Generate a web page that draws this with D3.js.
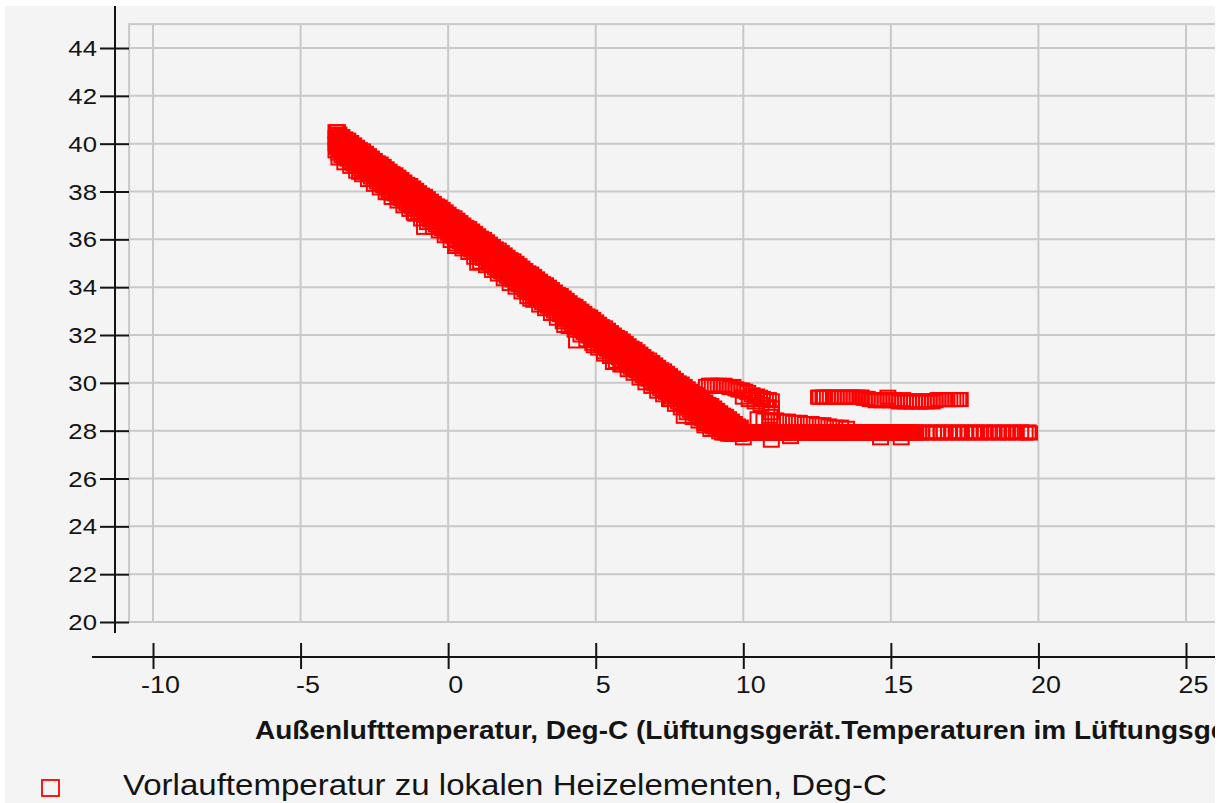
<!DOCTYPE html>
<html>
<head>
<meta charset="utf-8">
<script src="https://cdn.jsdelivr.net/npm/d3@7"></script>
<style>
  html, body { margin: 0; padding: 0; background: #ffffff; }
  svg { display: block; }
</style>
</head>
<body>
<svg id="chart"></svg>
<script>
const width = 1223,
  height = 803;

// axis ticks
const xTicks = [-10, -5, 0, 5, 10, 15, 20, 25];
const yTicks = [20, 22, 24, 26, 28, 30, 32, 34, 36, 38, 40, 42, 44];

const xTitle = "Außenlufttemperatur, Deg-C (Lüftungsgerät.Temperaturen im Lüftungsgerät)";
const seriesName = "Vorlauftemperatur zu lokalen Heizelementen, Deg-C";

// main descending band: [outside temp, flow temps read at that outside temp...]
const diagCols = [
  [-3.8,40.5,40.25,40.0,39.7],[-3.75,40.5],[-3.7,40.4,40.15,39.9,39.6],[-3.6,40.3,40.05,39.8,39.5],
  [-3.5,40.2,39.95,39.7,39.4],[-3.4,40.15,39.9,39.65,39.35],[-3.3,40.05,39.8,39.55,39.25],
  [-3.2,39.95,39.7,39.45,39.15],[-3.1,39.85,39.6,39.35,39.05],[-3.0,39.75,39.5,39.25,38.95],
  [-2.9,39.7,39.45,39.2,38.9],[-2.8,39.6,39.35,39.1,38.8],[-2.7,39.5,39.25,39.0,38.7],
  [-2.6,39.4,39.15,38.9,38.6],[-2.5,39.3,39.05,38.8,38.5],[-2.4,39.2,38.95,38.7,38.4],
  [-2.3,39.15,38.9,38.65,38.35],[-2.2,39.05,38.8,38.55,38.25],[-2.1,38.95,38.7,38.45,38.15],
  [-2.0,38.85,38.6,38.35,38.05],[-1.9,38.75,38.5,38.25,37.95],[-1.8,38.7,38.45,38.2,37.9],
  [-1.7,38.6,38.35,38.1,37.8],[-1.6,38.5,38.25,38.0,37.7],[-1.5,38.4,38.15,37.9,37.6],
  [-1.4,38.3,38.05,37.8,37.5],[-1.3,38.25,38.0,37.75,37.45],[-1.2,38.15,37.9,37.65,37.35],
  [-1.1,38.05,37.8,37.55,37.25],[-1.0,37.95,37.7,37.45,37.15],[-0.9,37.85,37.6,37.35,37.05],
  [-0.8,37.8,37.55,37.3,37.0],[-0.7,37.7,37.45,37.2,36.9],[-0.6,37.6,37.35,37.1,36.8],
  [-0.5,37.5,37.25,37.0,36.7],[-0.4,37.4,37.15,36.9,36.6],[-0.3,37.35,37.1,36.85,36.55],
  [-0.2,37.25,37.0,36.75,36.45],[-0.1,37.15,36.9,36.65,36.35],[0.0,37.05,36.8,36.55,36.25],
  [0.1,36.95,36.7,36.45,36.15],[0.2,36.9,36.65,36.4,36.1],[0.3,36.8,36.55,36.3,36.0],
  [0.4,36.7,36.45,36.2,35.9],[0.5,36.6,36.35,36.1,35.8],[0.6,36.5,36.25,36.0,35.7],
  [0.7,36.45,36.2,35.95,35.65],[0.8,36.35,36.1,35.85,35.55],[0.9,36.25,36.0,35.75,35.45],
  [1.0,36.15,35.9,35.65,35.35],[1.1,36.05,35.8,35.55,35.25],[1.2,36.0,35.75,35.5,35.2],
  [1.3,35.9,35.65,35.4,35.1],[1.4,35.8,35.55,35.3,35.0],[1.5,35.7,35.45,35.2,34.9],
  [1.6,35.6,35.35,35.1,34.8],[1.7,35.55,35.3,35.05,34.75],[1.8,35.45,35.2,34.95,34.65],
  [1.9,35.35,35.1,34.85,34.55],[2.0,35.25,35.0,34.75,34.45],[2.1,35.15,34.9,34.65,34.35],
  [2.2,35.1,34.85,34.6,34.3],[2.3,35.0,34.75,34.5,34.2],[2.4,34.9,34.65,34.4,34.1],
  [2.5,34.8,34.55,34.3,34.0],[2.6,34.7,34.45,34.2,33.9],[2.7,34.6,34.35,34.1,33.8],
  [2.8,34.55,34.3,34.05,33.75],[2.9,34.45,34.2,33.95,33.65],[3.0,34.35,34.1,33.85,33.55],
  [3.1,34.25,34.0,33.75,33.45],[3.2,34.15,33.9,33.65,33.35],[3.3,34.1,33.85,33.6,33.3],
  [3.4,34.0,33.75,33.5,33.2],[3.5,33.9,33.65,33.4,33.1],[3.6,33.8,33.55,33.3,33.0],
  [3.7,33.7,33.45,33.2,32.9],[3.8,33.65,33.4,33.15,32.85],[3.9,33.55,33.3,33.05,32.75],
  [4.0,33.45,33.2,32.95,32.65],[4.1,33.35,33.1,32.85,32.55],[4.2,33.25,33.0,32.75,32.45],
  [4.3,33.2,32.95,32.7,32.4],[4.4,33.1,32.85,32.6,32.3],[4.5,33.0,32.75,32.5,32.2],
  [4.6,32.9,32.65,32.4,32.1],[4.7,32.8,32.55,32.3,32.0],[4.8,32.75,32.5,32.25,31.95],
  [4.9,32.65,32.4,32.15,31.85],[5.0,32.55,32.3,32.05,31.75],[5.1,32.45,32.2,31.95,31.65],
  [5.2,32.35,32.1,31.85,31.55],[5.3,32.3,32.05,31.8,31.5],[5.4,32.2,31.95,31.7,31.4],
  [5.5,32.1,31.85,31.6,31.3],[5.6,32.0,31.75,31.5,31.2],[5.7,31.9,31.65,31.4,31.1],
  [5.8,31.85,31.6,31.35,31.05],[5.9,31.75,31.5,31.25,30.95],[6.0,31.65,31.4,31.15,30.85],
  [6.1,31.55,31.3,31.05,30.75],[6.2,31.45,31.2,30.95,30.65],[6.3,31.4,31.15,30.9,30.6],
  [6.4,31.3,31.05,30.8,30.5],[6.5,31.2,30.95,30.7,30.4],[6.6,31.1,30.85,30.6,30.3],
  [6.7,31.0,30.75,30.5,30.2],[6.8,30.95,30.7,30.45,30.15],[6.9,30.85,30.6,30.35,30.05],
  [7.0,30.75,30.5,30.25,29.95],[7.1,30.65,30.4,30.15,29.85],[7.2,30.55,30.3,30.05,29.75],
  [7.3,30.5,30.25,30.0,29.7],[7.4,30.4,30.15,29.9,29.6],[7.5,30.3,30.05,29.8,29.5],
  [7.6,30.2,29.95,29.7,29.4],[7.7,30.1,29.85,29.6,29.3],[7.8,30.0,29.75,29.5,29.2],
  [7.9,29.95,29.7,29.45,29.15],[8.0,29.85,29.6,29.35,29.05],[8.1,29.75,29.5,29.25,28.95],
  [8.2,29.65,29.4,29.15,28.85],[8.3,29.55,29.3,29.05,28.75],[8.4,29.5,29.25,29.0,28.7],
  [8.5,29.4,29.15,28.9,28.6],[8.6,29.3,29.05,28.8,28.5],[8.7,29.2,28.95,28.7,28.4],
  [8.8,29.1,28.85,28.6,28.3],[8.9,29.05,28.8,28.55,28.25],[9.0,28.95,28.7,28.45,28.15],
  [9.1,28.85,28.6,28.35,28.05],[9.2,28.75,28.5,28.25,27.95],[9.3,28.65,28.4,28.15,27.9],
  [9.4,28.6,28.35,28.1,27.9],[9.5,28.5,28.25,28.0,27.85],[9.6,28.4,28.15,27.95,27.85],
  [9.7,28.3,28.05,27.9,27.85],[9.8,28.2,28.0,27.9,27.85],[9.9,28.15,27.95,27.9,27.85]
];

// readings taken between the columns above
const diagHalf = [
  [-3.75,40.35,40.1,39.85],[-3.65,40.25,40.0,39.75],[-3.55,40.15,39.9,39.65],[-3.45,40.05,39.8,39.55],
  [-3.35,40.0,39.75,39.5],[-3.25,39.9,39.65,39.4],[-3.15,39.8,39.55,39.3],[-3.05,39.7,39.45,39.2],
  [-2.95,39.6,39.35,39.1],[-2.85,39.55,39.3,39.05],[-2.75,39.45,39.2,38.95],[-2.65,39.35,39.1,38.85],
  [-2.55,39.25,39.0,38.75],[-2.45,39.15,38.9,38.65],[-2.35,39.1,38.85,38.6],[-2.25,39.0,38.75,38.5],
  [-2.15,38.9,38.65,38.4],[-2.05,38.8,38.55,38.3],[-1.95,38.7,38.45,38.2],[-1.85,38.65,38.4,38.15],
  [-1.75,38.55,38.3,38.05],[-1.65,38.45,38.2,37.95],[-1.55,38.35,38.1,37.85],[-1.45,38.25,38.0,37.75],
  [-1.35,38.2,37.95,37.7],[-1.25,38.1,37.85,37.6],[-1.15,38.0,37.75,37.5],[-1.05,37.9,37.65,37.4],
  [-0.95,37.8,37.55,37.3],[-0.85,37.75,37.5,37.25],[-0.75,37.65,37.4,37.15],[-0.65,37.55,37.3,37.05],
  [-0.55,37.45,37.2,36.95],[-0.45,37.35,37.1,36.85],[-0.35,37.3,37.05,36.8],[-0.25,37.2,36.95,36.7],
  [-0.15,37.1,36.85,36.6],[-0.05,37.0,36.75,36.5],[0.05,36.9,36.65,36.4],[0.15,36.8,36.55,36.3],
  [0.25,36.75,36.5,36.25],[0.35,36.65,36.4,36.15],[0.45,36.55,36.3,36.05],[0.55,36.45,36.2,35.95],
  [0.65,36.35,36.1,35.85],[0.75,36.3,36.05,35.8],[0.85,36.2,35.95,35.7],[0.95,36.1,35.85,35.6],
  [1.05,36.0,35.75,35.5],[1.15,35.9,35.65,35.4],[1.25,35.85,35.6,35.35],[1.35,35.75,35.5,35.25],
  [1.45,35.65,35.4,35.15],[1.55,35.55,35.3,35.05],[1.65,35.45,35.2,34.95],[1.75,35.4,35.15,34.9],
  [1.85,35.3,35.05,34.8],[1.95,35.2,34.95,34.7],[2.05,35.1,34.85,34.6],[2.15,35.0,34.75,34.5],
  [2.25,34.95,34.7,34.45],[2.35,34.85,34.6,34.35],[2.45,34.75,34.5,34.25],[2.55,34.65,34.4,34.15],
  [2.65,34.55,34.3,34.05],[2.75,34.5,34.25,34.0],[2.85,34.4,34.15,33.9],[2.95,34.3,34.05,33.8],
  [3.05,34.2,33.95,33.7],[3.15,34.1,33.85,33.6],[3.25,34.05,33.8,33.55],[3.35,33.95,33.7,33.45],
  [3.45,33.85,33.6,33.35],[3.55,33.75,33.5,33.25],[3.65,33.65,33.4,33.15],[3.75,33.6,33.35,33.1],
  [3.85,33.5,33.25,33.0],[3.95,33.4,33.15,32.9],[4.05,33.3,33.05,32.8],[4.15,33.2,32.95,32.7],
  [4.25,33.15,32.9,32.65],[4.35,33.05,32.8,32.55],[4.45,32.95,32.7,32.45],[4.55,32.85,32.6,32.35],
  [4.65,32.75,32.5,32.25],[4.75,32.7,32.45,32.2],[4.85,32.6,32.35,32.1],[4.95,32.5,32.25,32.0],
  [5.05,32.4,32.15,31.9],[5.15,32.3,32.05,31.8],[5.25,32.2,31.95,31.7],[5.35,32.15,31.9,31.65],
  [5.45,32.05,31.8,31.55],[5.55,31.95,31.7,31.45],[5.65,31.85,31.6,31.35],[5.75,31.75,31.5,31.25],
  [5.85,31.7,31.45,31.2],[5.95,31.6,31.35,31.1],[6.05,31.5,31.25,31.0],[6.15,31.4,31.15,30.9],
  [6.25,31.3,31.05,30.8],[6.35,31.25,31.0,30.75],[6.45,31.15,30.9,30.65],[6.55,31.05,30.8,30.55],
  [6.65,30.95,30.7,30.45],[6.75,30.85,30.6,30.35],[6.85,30.8,30.55,30.3],[6.95,30.7,30.45,30.2],
  [7.05,30.6,30.35,30.1],[7.15,30.5,30.25,30.0],[7.25,30.4,30.15,29.9],[7.35,30.35,30.1,29.85],
  [7.45,30.25,30.0,29.75],[7.55,30.15,29.9,29.65],[7.65,30.05,29.8,29.55],[7.75,29.95,29.7,29.45],
  [7.85,29.9,29.65,29.4],[7.95,29.8,29.55,29.3],[8.05,29.7,29.45,29.2],[8.15,29.6,29.35,29.1],
  [8.25,29.5,29.25,29.0],[8.35,29.45,29.2,28.95],[8.45,29.35,29.1,28.85],[8.55,29.25,29.0,28.75],
  [8.65,29.15,28.9,28.65],[8.75,29.05,28.8,28.55],[8.85,29.0,28.75,28.5],[8.95,28.9,28.65,28.4],
  [9.05,28.8,28.55,28.3],[9.15,28.7,28.45,28.2],[9.25,28.6,28.35,28.1],[9.35,28.55,28.3,28.05],
  [9.45,28.45,28.2,27.95],[9.55,28.35,28.1,27.9],[9.65,28.25,28.0,27.85],[9.75,28.15,27.95,27.85],
  [9.85,28.1,27.9,27.85]
];

// lower edge of the band, read every 0.2 °C
const diagLow = [
  [-3.7,39.4],[-3.5,39.2],[-3.3,39.05],[-3.1,38.85],[-2.9,38.7],[-2.7,38.5],[-2.5,38.3],
  [-2.3,38.15],[-2.1,37.95],[-1.9,37.75],[-1.7,37.6],[-1.5,37.4],[-1.3,37.25],[-1.1,37.05],
  [-0.9,36.85],[-0.7,36.7],[-0.5,36.5],[-0.3,36.35],[-0.1,36.15],[0.1,35.95],[0.3,35.8],
  [0.5,35.6],[0.7,35.45],[0.9,35.25],[1.1,35.05],[1.3,34.9],[1.5,34.7],[1.7,34.55],
  [1.9,34.35],[2.1,34.15],[2.3,34.0],[2.5,33.8],[2.7,33.6],[2.9,33.45],[3.1,33.25],
  [3.3,33.1],[3.5,32.9],[3.7,32.7],[3.9,32.55],[4.1,32.35],[4.3,32.2],[4.5,32.0],
  [4.7,31.8],[4.9,31.65],[5.1,31.45],[5.3,31.3],[5.5,31.1],[5.7,30.9],[5.9,30.75],
  [6.1,30.55],[6.3,30.4],[6.5,30.2],[6.7,30.0],[6.9,29.85],[7.1,29.65],[7.3,29.5],
  [7.5,29.3],[7.7,29.1],[7.9,28.95],[8.1,28.75],[8.3,28.55],[8.5,28.4],[8.7,28.2],
  [8.9,28.05]
];

// readings above the curve around the knee
const kneeUpper = [
  [8.75,29.85],[8.85,29.9],[8.95,29.9],[9.05,29.85],[9.15,29.9],[9.25,29.85],[9.35,29.9],
  [9.45,29.85],[9.55,29.8],[9.65,29.85],[9.75,29.75],[9.85,29.7],[9.95,29.7],[10.05,29.65],
  [10.15,29.6],[10.3,29.5],[10.45,29.45],[10.55,29.4],[10.65,29.35],[10.75,29.3],
  [10.85,29.3],[10.95,29.25],[10.0,29.4],[10.2,29.3],[10.4,29.2],[10.6,29.1],[10.8,29.0],
  [10.95,28.95],[10.95,28.75],[10.9,28.6]
];

// short row between the knee and the floor
const transRow = [
  [10.5,28.5],[10.7,28.45],[10.9,28.45],[11.1,28.45],[11.3,28.4],[11.5,28.4],[11.7,28.35],
  [11.9,28.35],[12.1,28.3],[12.3,28.3],[12.5,28.25],[12.7,28.25],[12.9,28.2],[13.1,28.15],
  [13.3,28.15],[13.5,28.1]
];

// floor at 28 °C, dense part
const floorDense = [
  [9.9,27.95],[9.95,27.9],[10.0,27.95],[10.05,27.9],[10.1,27.95],[10.15,27.9],[10.2,27.95],
  [10.25,27.9],[10.3,27.95],[10.35,27.9],[10.4,27.95],[10.45,27.9],[10.5,27.95],[10.55,27.9],
  [10.6,27.95],[10.65,27.9],[10.7,27.95],[10.75,27.9],[10.8,27.95],[10.85,27.9],[10.9,27.95],
  [10.95,27.9],[11.0,27.95],[11.05,27.9],[11.1,27.95],[11.15,27.9],[11.2,27.95],[11.25,27.9],
  [11.3,27.95],[11.35,27.9],[11.4,27.95],[11.45,27.9],[11.5,27.95],[11.55,27.9],[11.6,27.95],
  [11.65,27.9],[11.7,27.95],[11.75,27.9],[11.8,27.95],[11.85,27.9],[11.9,27.95],[11.95,27.9],
  [12.0,27.95],[12.05,27.9],[12.1,27.95],[12.15,27.9],[12.2,27.95],[12.25,27.9],[12.3,27.95],
  [12.35,27.9],[12.4,27.95],[12.45,27.9],[12.5,27.95],[12.55,27.9],[12.6,27.95],[12.65,27.9],
  [12.7,27.95],[12.75,27.9],[12.8,27.95],[12.85,27.9],[12.9,27.95],[12.95,27.9],[13.0,27.95],
  [13.05,27.9],[13.1,27.95],[13.15,27.9],[13.2,27.95],[13.25,27.9],[13.3,27.95],[13.35,27.9],
  [13.4,27.95],[13.45,27.9],[13.5,27.95],[13.55,27.9],[13.6,27.95],[13.65,27.9],[13.7,27.95],
  [13.75,27.9],[13.8,27.95],[13.85,27.9],[13.9,27.95],[13.95,27.9],[14.0,27.95],[14.05,27.9],
  [14.1,27.95],[14.15,27.9],[14.2,27.95],[14.25,27.9],[14.3,27.95],[14.35,27.9],[14.4,27.95],
  [14.45,27.9],[14.5,27.95],[14.55,27.9],[14.6,27.95],[14.65,27.9],[14.7,27.95],[14.75,27.9],
  [14.8,27.95],[14.85,27.9],[14.9,27.95],[14.95,27.9],[15.0,27.95],[15.05,27.9],[15.1,27.95],
  [15.15,27.9],[15.2,27.95],[15.25,27.9],[15.3,27.95],[15.35,27.9],[15.4,27.95],[15.45,27.9],
  [15.5,27.95],[15.55,27.9],[15.6,27.95],[15.65,27.9],[15.7,27.95],[15.75,27.9],[15.8,27.95],
  [15.85,27.9]
];

// floor at 28 °C, sparse warm end
const floorSparse = [
  [15.95,27.9],[16.05,27.95],[16.2,27.9],[16.3,27.95],[16.45,27.9],[16.55,27.95],[16.7,27.9],
  [16.8,27.95],[16.95,27.9],[17.1,27.95],[17.25,27.9],[17.35,27.95],[17.5,27.9],[17.65,27.95],
  [17.8,27.9],[17.9,27.95],[18.05,27.9],[18.2,27.95],[18.35,27.9],[18.5,27.95],[18.65,27.9],
  [18.8,27.95],[18.95,27.9],[19.1,27.95],[19.25,27.9],[19.4,27.95],[19.55,27.9],[19.65,27.95],
  [19.7,27.9]
];

// separate group at ~29.3 °C
const upperBand = [
  [12.55,29.4],[12.6,29.4],[12.7,29.4],[12.75,29.4],[12.85,29.4],[12.95,29.4],[13.05,29.4],
  [13.15,29.4],[13.25,29.4],[13.35,29.4],[13.45,29.4],[13.55,29.4],[13.65,29.4],[13.75,29.4],
  [13.85,29.4],[13.95,29.4],[14.0,29.4],[14.1,29.35],[14.2,29.35],[14.3,29.3],[14.4,29.3],
  [14.5,29.25],[14.6,29.3],[14.7,29.25],[14.8,29.3],[14.9,29.4],[15.0,29.25],[15.1,29.3],
  [15.2,29.25],[15.3,29.2],[15.4,29.3],[15.5,29.2],[15.6,29.25],[15.7,29.2],[15.8,29.25],
  [15.9,29.2],[16.0,29.2],[16.1,29.25],[16.2,29.2],[16.3,29.25],[16.4,29.2],[16.5,29.25],
  [16.6,29.3],[16.7,29.3],[16.8,29.3],[16.9,29.3],[17.0,29.3],[17.1,29.3],[17.2,29.3],
  [17.3,29.3],[17.35,29.3]
];

// isolated readings below the band
const lowOutliers = [
  [-3.4,39.45],[-3.3,39.2],[-3.0,38.8],[-2.0,37.95],[-1.15,37.1],[-0.8,36.5],[0.25,35.7],
  [1.0,35.0],[2.8,33.5],[3.95,32.4],[4.35,31.75],[4.95,31.55],[5.3,31.2],[5.6,30.85],
  [5.85,30.75],[7.55,29.3],[8.0,28.6],[8.7,28.3],[10.0,27.7],[10.95,27.6],[11.6,27.75],
  [14.65,27.7],[15.35,27.7]
];

const points = [];
[diagCols, diagHalf].forEach(cols =>
  cols.forEach(c => c.slice(1).forEach(v => points.push([c[0], v]))));
[diagLow, kneeUpper, transRow, floorDense, floorSparse, upperBand, lowOutliers]
  .forEach(arr => arr.forEach(p => points.push(p)));

const font = "'Liberation Sans', Arial, sans-serif",
  ink = "#141414",
  gridCol = "#c9c9c9",
  stretch = 1.12;   // text in the reference is a bit wider than Arial

const x = d3.scaleLinear().domain([-10, 25]).range([153, 1186]);
const y = d3.scaleLinear().domain([20, 44]).range([622, 48]);

const svg = d3.select("#chart")
  .attr("width", width)
  .attr("height", height)
  .attr("font-family", font);

svg.append("defs").append("clipPath")
  .attr("id", "panel")
  .append("rect")
  .attr("x", 5).attr("y", 6)
  .attr("width", 1210).attr("height", height - 6);

svg.append("rect")
  .attr("x", 5).attr("y", 6)
  .attr("width", 1210).attr("height", height - 6)
  .attr("fill", "#f4f4f4");

const g = svg.append("g").attr("clip-path", "url(#panel)");

const plotLeft = x(-10.81),
  plotTop = y(45),
  plotBottom = y(20);

// grid
g.append("g").selectAll("line")
  .data(yTicks)
  .join("line")
  .attr("x1", plotLeft).attr("x2", 1230)
  .attr("y1", d => y(d)).attr("y2", d => y(d))
  .attr("stroke", gridCol).attr("stroke-width", 2);

g.append("g").selectAll("line")
  .data(xTicks)
  .join("line")
  .attr("x1", d => x(d)).attr("x2", d => x(d))
  .attr("y1", plotTop).attr("y2", plotBottom)
  .attr("stroke", gridCol).attr("stroke-width", 2);

g.append("rect")
  .attr("x", plotLeft).attr("y", plotTop)
  .attr("width", 1230 - plotLeft).attr("height", plotBottom - plotTop)
  .attr("fill", "none")
  .attr("stroke", gridCol).attr("stroke-width", 2);

// y axis
const yAxis = g.append("g")
  .attr("transform", "translate(115,0)")
  .call(d3.axisLeft(y).tickValues(yTicks).tickFormat(d => String(d)).tickSize(15).tickPadding(18));
yAxis.select(".domain").remove();
yAxis.selectAll(".tick line")
  .attr("x1", 14).attr("x2", -15)
  .attr("stroke", ink).attr("stroke-width", 2);
yAxis.selectAll(".tick text")
  .attr("x", null).attr("dy", null)
  .attr("transform", `translate(-18,7.5) scale(${stretch},1)`)
  .attr("fill", ink)
  .style("font-size", "23px")
  .style("font-family", font);
g.append("line")
  .attr("x1", 115).attr("x2", 115)
  .attr("y1", 6).attr("y2", 633)
  .attr("stroke", ink).attr("stroke-width", 2);

// x axis
const xAxis = g.append("g")
  .attr("transform", "translate(0,657)")
  .call(d3.axisBottom(x).tickValues(xTicks).tickFormat(d => String(d)).tickSize(12));
xAxis.select(".domain").remove();
xAxis.selectAll(".tick line")
  .attr("y1", -14).attr("y2", 12)
  .attr("stroke", ink).attr("stroke-width", 2);
xAxis.selectAll(".tick text")
  .attr("y", null).attr("dy", null)
  .attr("transform", `translate(7,36) scale(${stretch},1)`)
  .attr("fill", ink)
  .style("font-size", "24px")
  .style("font-family", font);
g.append("line")
  .attr("x1", 92).attr("x2", 1230)
  .attr("y1", 657).attr("y2", 657)
  .attr("stroke", ink).attr("stroke-width", 2);

g.append("text")
  .attr("transform", `translate(255,739) scale(${stretch},1)`)
  .attr("fill", ink)
  .attr("font-weight", "bold")
  .style("font-size", "25px")
  .text(xTitle);

// markers
g.append("g").selectAll("rect")
  .data(points)
  .join("rect")
  .attr("x", d => x(d[0]) - 7.5)
  .attr("y", d => y(d[1]) - 6.5)
  .attr("width", 15)
  .attr("height", 13)
  .attr("fill", "none")
  .attr("stroke", "#ff0000")
  .attr("stroke-width", 2);

// legend
g.append("rect")
  .attr("x", 42).attr("y", 780)
  .attr("width", 17).attr("height", 16)
  .attr("fill", "none")
  .attr("stroke", "#ff0000")
  .attr("stroke-width", 1.8);

g.append("text")
  .attr("transform", `translate(123,795) scale(${stretch},1)`)
  .attr("fill", ink)
  .style("font-size", "29.5px")
  .text(seriesName);
</script>
</body>
</html>
